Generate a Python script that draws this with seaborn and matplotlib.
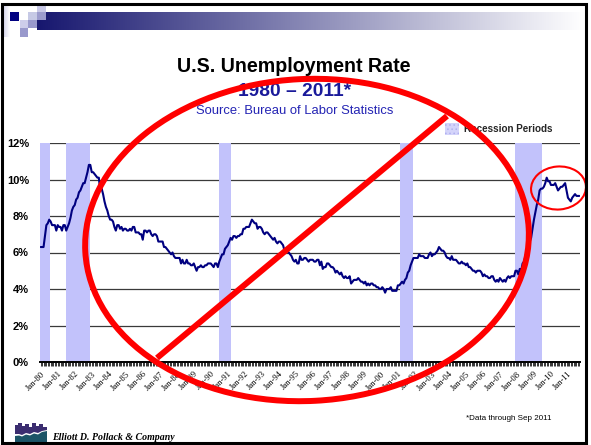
import numpy as np
import pandas as pd
import matplotlib
matplotlib.use("Agg")
import matplotlib.pyplot as plt
import seaborn as sns
from matplotlib.patches import Rectangle, Ellipse, Polygon, Patch
from matplotlib.lines import Line2D
from matplotlib.transforms import Affine2D
from matplotlib.colors import LinearSegmentedColormap

# ---------------- data ----------------
# Monthly civilian unemployment rate (%), Jan 1980 - Sep 2011
unemployment_rate = [
    6.3, 6.3, 6.3, 6.9, 7.5, 7.6, 7.8, 7.7, 7.5, 7.5, 7.5, 7.2,   # 1980
    7.5, 7.4, 7.4, 7.2, 7.5, 7.5, 7.2, 7.4, 7.6, 7.9, 8.3, 8.5,   # 1981
    8.6, 8.9, 9.0, 9.3, 9.4, 9.6, 9.8, 9.8, 10.1, 10.4, 10.8, 10.8,  # 1982
    10.4, 10.4, 10.3, 10.2, 10.1, 10.1, 9.4, 9.5, 9.2, 8.8, 8.5, 8.3,  # 1983
    8.0, 7.8, 7.8, 7.7, 7.4, 7.2, 7.5, 7.5, 7.3, 7.4, 7.2, 7.3,   # 1984
    7.3, 7.2, 7.2, 7.3, 7.2, 7.4, 7.4, 7.1, 7.1, 7.1, 7.0, 7.0,   # 1985
    6.7, 7.2, 7.2, 7.1, 7.2, 7.2, 7.0, 6.9, 7.0, 7.0, 6.9, 6.6,   # 1986
    6.6, 6.6, 6.6, 6.3, 6.3, 6.2, 6.1, 6.0, 5.9, 6.0, 5.8, 5.7,   # 1987
    5.7, 5.7, 5.7, 5.4, 5.6, 5.4, 5.4, 5.6, 5.4, 5.4, 5.3, 5.3,   # 1988
    5.4, 5.2, 5.0, 5.2, 5.2, 5.3, 5.2, 5.2, 5.3, 5.3, 5.4, 5.4,   # 1989
    5.4, 5.3, 5.2, 5.4, 5.4, 5.2, 5.5, 5.7, 5.9, 5.9, 6.2, 6.3,   # 1990
    6.4, 6.6, 6.8, 6.7, 6.9, 6.9, 6.8, 6.9, 6.9, 7.0, 7.0, 7.3,   # 1991
    7.3, 7.4, 7.4, 7.4, 7.6, 7.8, 7.7, 7.6, 7.6, 7.3, 7.4, 7.4,   # 1992
    7.3, 7.1, 7.0, 7.1, 7.1, 7.0, 6.9, 6.8, 6.7, 6.8, 6.6, 6.5,   # 1993
    6.6, 6.6, 6.5, 6.4, 6.1, 6.1, 6.1, 6.0, 5.9, 5.8, 5.6, 5.5,   # 1994
    5.6, 5.4, 5.4, 5.8, 5.6, 5.6, 5.7, 5.7, 5.6, 5.5, 5.6, 5.6,   # 1995
    5.6, 5.5, 5.5, 5.6, 5.6, 5.3, 5.5, 5.1, 5.2, 5.2, 5.4, 5.4,   # 1996
    5.3, 5.2, 5.2, 5.1, 4.9, 5.0, 4.9, 4.8, 4.9, 4.7, 4.6, 4.7,   # 1997
    4.6, 4.6, 4.7, 4.3, 4.4, 4.5, 4.5, 4.5, 4.6, 4.5, 4.4, 4.4,   # 1998
    4.3, 4.4, 4.2, 4.3, 4.2, 4.3, 4.3, 4.2, 4.2, 4.1, 4.1, 4.0,   # 1999
    4.0, 4.1, 4.0, 3.8, 4.0, 4.0, 4.0, 4.1, 3.9, 3.9, 3.9, 3.9,   # 2000
    4.2, 4.2, 4.3, 4.4, 4.3, 4.5, 4.6, 4.9, 5.0, 5.3, 5.5, 5.7,   # 2001
    5.7, 5.7, 5.7, 5.9, 5.8, 5.8, 5.8, 5.7, 5.7, 5.7, 5.9, 6.0,   # 2002
    5.8, 5.9, 5.9, 6.0, 6.1, 6.3, 6.2, 6.1, 6.1, 6.0, 5.8, 5.7,   # 2003
    5.7, 5.6, 5.8, 5.6, 5.6, 5.6, 5.5, 5.4, 5.4, 5.5, 5.4, 5.4,   # 2004
    5.3, 5.4, 5.2, 5.2, 5.1, 5.0, 5.0, 4.9, 5.0, 5.0, 5.0, 4.9,   # 2005
    4.7, 4.8, 4.7, 4.7, 4.6, 4.6, 4.7, 4.7, 4.5, 4.4, 4.5, 4.4,   # 2006
    4.6, 4.5, 4.4, 4.5, 4.4, 4.6, 4.7, 4.6, 4.7, 4.7, 4.7, 5.0,   # 2007
    5.0, 4.8, 5.1, 5.0, 5.4, 5.5, 5.8, 6.1, 6.2, 6.6, 6.8, 7.3,   # 2008
    7.8, 8.2, 8.6, 8.9, 9.4, 9.5, 9.5, 9.6, 9.8, 10.1, 9.9, 9.9,  # 2009
    9.7, 9.7, 9.7, 9.8, 9.6, 9.4, 9.5, 9.6, 9.6, 9.7, 9.8, 9.4,   # 2010
    9.0, 8.9, 8.8, 9.0, 9.1, 9.2, 9.1, 9.1, 9.1,                  # 2011
]
first_month = "1980-01"

# NBER recession periods (first and last month)
recession_start = ["1980-01", "1981-07", "1990-07", "2001-03", "2007-12"]
recession_end = ["1980-07", "1982-11", "1991-03", "2001-11", "2009-06"]

y_ticks = [0, 2, 4, 6, 8, 10, 12]

title = "U.S. Unemployment Rate"
subtitle = "1980 \u2013 2011*"
source = "Source: Bureau of Labor Statistics"
legend_label = "Recession Periods"
footnote = "*Data through Sep 2011"
company = "Elliott D. Pollack & Company"

# ---------------- figure ----------------
W, H = 591, 445
sns.set_theme(style="white")
plt.rcParams["font.family"] = ["Liberation Sans", "DejaVu Sans"]
plt.rcParams["hatch.linewidth"] = 0.6

fig = plt.figure(figsize=(W / 100, H / 100), dpi=100)
fig.patch.set_facecolor("white")

# pixel (y down) -> figure transform for slide decorations
PX = Affine2D().scale(1 / W, -1 / H).translate(0, 1) + fig.transFigure

months = pd.period_range(first_month, periods=len(unemployment_rate), freq="M")
df = pd.DataFrame({"month": np.arange(len(months)), "rate": unemployment_rate})

ax = fig.add_axes([40 / W, 1 - 362 / H, 540 / W, 219 / H])
ax.set_facecolor("white")
ax.set_axisbelow(True)

band_color = "#c2c2fb"
for s, e in zip(recession_start, recession_end):
    i0 = (pd.Period(s, freq="M") - months[0]).n
    i1 = (pd.Period(e, freq="M") - months[0]).n
    ax.axvspan(i0 - 0.5, i1 + 0.5, color=band_color, lw=0, zorder=1)

sns.lineplot(data=df, x="month", y="rate", color="#000080", lw=1.5,
             ax=ax, zorder=4)

ax.set_xlim(-0.5, len(months) - 0.5)
ax.set_ylim(0, 12)
ax.set_yticks(y_ticks)
ax.set_yticklabels([f"{v}%" for v in y_ticks], fontsize=8,
                   fontweight="bold", color="black")
ax.yaxis.grid(True, color="#3a3a3a", lw=0.9)
ax.xaxis.grid(False)
ax.tick_params(axis="y", length=0, pad=8)

jan_idx = [i for i, m in enumerate(months) if m.month == 1]
ax.set_xticks(jan_idx)
ax.set_xticklabels([months[i].strftime("%b-%y") for i in jan_idx],
                   rotation=45, ha="right", rotation_mode="anchor",
                   fontsize=6.2, family="Liberation Serif", color="black")
ax.set_xticks(np.arange(len(months)), minor=True)
ax.tick_params(axis="x", which="both", direction="out", length=3.2,
               width=0.55, color="black", bottom=True, pad=2.5)
ax.set_xlabel("")
ax.set_ylabel("")
for side in ("left", "right", "top"):
    ax.spines[side].set_visible(False)
ax.spines["bottom"].set_color("black")
ax.spines["bottom"].set_linewidth(1.4)
ax.spines["bottom"].set_zorder(5)

# legend for the recession shading
handle = Patch(facecolor="#d4d4fa", edgecolor="#b0b0f0", hatch="....",
               linewidth=0, label=legend_label)
fig.legend(handles=[handle], loc="center left",
           bbox_to_anchor=(445 / W, 1 - 129 / H), frameon=False,
           borderpad=0, borderaxespad=0, handlelength=1.45,
           handleheight=1.35, handletextpad=0.45,
           prop={"size": 7.1, "weight": "bold"})

# ---------------- titles ----------------
fig.text(294 / W, 1 - 67 / H, title, ha="center", va="center",
         fontsize=14.1, fontweight="bold", color="black")
fig.text(294.5 / W, 1 - 91 / H, subtitle, ha="center", va="center",
         fontsize=13.8, fontweight="bold", color="#1a1a9a")
fig.text(294.5 / W, 1 - 111 / H, source, ha="center", va="center",
         fontsize=9.4, color="#2424b4")
fig.text(466 / W, 1 - 418 / H, footnote, ha="left", va="center",
         fontsize=5.8, color="black")
fig.text(52 / W, 1 - 438 / H, company, ha="left", va="center",
         fontsize=7.1, fontweight="bold", style="italic",
         family="Liberation Serif", color="black")

# ---------------- slide header ----------------
band_ax = fig.add_axes([37 / W, 1 - 30 / H, (585 - 37) / W, 18 / H])
band_cmap = LinearSegmentedColormap.from_list("hdr", ["#17176f", "#ffffff"])
band_ax.imshow(np.linspace(0, 1, 256)[None, :], aspect="auto",
               cmap=band_cmap, extent=[0, 1, 0, 1])
band_ax.set_axis_off()

strip_ax = fig.add_axes([3 / W, 1 - 37 / H, 7 / W, 32 / H])
strip_cmap = LinearSegmentedColormap.from_list("strip", ["#d4d4ec", "#ffffff"])
strip_ax.imshow(np.linspace(0, 1, 32)[None, :], aspect="auto",
                cmap=strip_cmap, extent=[0, 1, 0, 1])
strip_ax.set_axis_off()

squares = [
    (10, 12, 9, 9, "#000080"),
    (37, 5, 9, 7, "#c8c8e6"),
    (28, 12, 9, 8, "#c6c9e5"),
    (37, 12, 9, 8, "#9b9bcd"),
    (20, 20, 8, 8, "#cdcdea"),
    (28, 20, 9, 8, "#9999cc"),
    (20, 28, 8, 9, "#9999cc"),
]
for x, y, w, h, c in squares:
    fig.patches.append(Rectangle((x, y), w, h, facecolor=c, lw=0,
                                 transform=PX, zorder=6))

# ---------------- company logo ----------------
sky = Polygon([(15, 434), (15, 425), (18, 425), (18, 423), (22, 423),
               (22, 426), (25, 426), (25, 424), (29, 424), (29, 427),
               (32, 427), (32, 423), (36, 423), (36, 426), (39, 426),
               (39, 424), (43, 424), (43, 427), (47, 427), (47, 430),
               (42, 431), (38, 433), (34, 432), (30, 434), (26, 433),
               (22, 435), (19, 434)],
              closed=True, facecolor="#3b2d70", lw=0, transform=PX, zorder=6)
ground = Polygon([(15, 442), (15, 436), (19, 435.5), (22, 436.5),
                  (26, 434.5), (30, 435.5), (34, 433.5), (38, 434.5),
                  (42, 432), (47, 431), (47, 442)],
                 closed=True, facecolor="#1c5467", lw=0, transform=PX,
                 zorder=6)
fig.patches.extend([sky, ground])

# ---------------- red markup ----------------
fig.patches.append(Ellipse((307, 240), 444, 322, angle=-3, fill=False,
                           edgecolor="#ff0000", lw=4.3, transform=PX,
                           zorder=12))
fig.lines.append(Line2D([157, 447], [358, 116], color="#ff0000", lw=4.3,
                        solid_capstyle="butt", transform=PX, zorder=12))
fig.patches.append(Ellipse((558.5, 188), 55, 43, angle=-5, fill=False,
                           edgecolor="#ff0000", lw=1.5, transform=PX,
                           zorder=12))

# slide frame
fig.patches.append(Rectangle((1.5, 4), 584, 439, fill=False,
                             edgecolor="black", lw=2.2, transform=PX,
                             zorder=20))

fig.savefig("out.png", dpi=100, facecolor="white")
